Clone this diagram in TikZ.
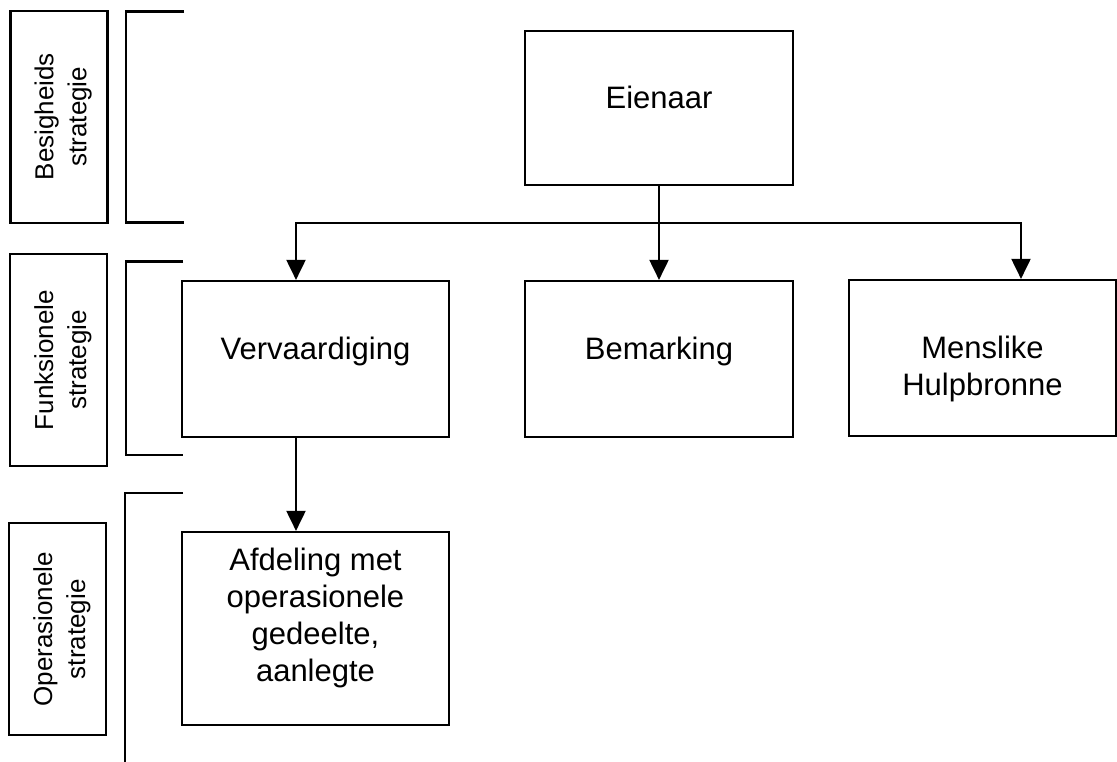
\documentclass[tikz,border=0pt]{standalone}
\usepackage{fontspec}
\setmainfont{Liberation Sans}
\usetikzlibrary{arrows.meta}
\begin{document}
\begin{tikzpicture}[x=1pt,y=-1pt,
  box/.style={draw,line width=2.2pt,inner sep=0pt,align=center,
    font=\fontsize{31}{37}\selectfont},
  oneline/.style={text height=11pt,text depth=11pt},
  lvl/.style={draw,line width=2.2pt,inner sep=0pt,align=center,rotate=90,
    minimum width=212pt,minimum height=97pt,font=\fontsize{26}{33}\selectfont},
  brk/.style={line width=2.2pt},
  conn/.style={line width=2pt},
  arr/.style={conn,-{Triangle[width=19pt,length=20pt]}}]
\useasboundingbox (0,0) rectangle (1117,761);

% level labels on the left
\node[lvl] (lbus) at (59,116.7) {\rule{0pt}{27pt}Besigheids\\strategie};
\node[lvl] (lfun) at (58.8,360) {\rule{0pt}{27pt}Funksionele\\strategie};
\node[lvl] (lops) at (57.7,629.3) {\rule{0pt}{27pt}Operasionele\\strategie};

% brackets marking each level
\draw[brk] (184,11.5) -- (126,11.5) -- (126,222.5) -- (184,222.5);
\draw[brk] (183,261.5) -- (126,261.5) -- (126,455) -- (183,455);
\draw[brk] (183,493) -- (125,493) -- (125,765);

% organisation boxes
\node[box,oneline,minimum width=268pt,minimum height=154pt] (eien) at (659,108) {Eienaar};
\node[box,oneline,minimum width=267pt,minimum height=156pt] (verv) at (315.5,359) {Vervaardiging};
\node[box,oneline,minimum width=268pt,minimum height=156pt] (bema) at (659,359) {Bemarking};
\node[box,minimum width=267pt,minimum height=156pt] (mens) at (982.5,358)
  {\rule{0pt}{45pt}Menslike\\Hulpbronne};
\node[box,minimum width=267pt,minimum height=193pt] (afd) at (315.5,628.5)
  {Afdeling met\\operasionele\\gedeelte,\\aanlegte\rule[-27pt]{0pt}{27pt}};

% connectors
\coordinate (bus) at (659,223);
\draw[conn] (eien.south) -- (bus);
\draw[arr] (bus) -| ([xshift=-19.5pt]verv.north);
\draw[arr] (bus) -- (bema.north);
\draw[arr] (bus) -| ([xshift=38.5pt]mens.north);
\draw[arr] ([xshift=-19.5pt]verv.south) -- ([xshift=-19.5pt]afd.north);
\end{tikzpicture}
\end{document}
